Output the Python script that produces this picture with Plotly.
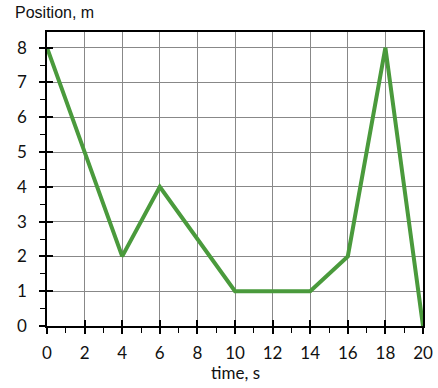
import plotly.graph_objects as go

time_s = [0, 4, 6, 10, 14, 16, 18, 20]
position_m = [8, 2, 4, 1, 1, 2, 8, 0]
x_ticks = [0, 2, 4, 6, 8, 10, 12, 14, 16, 18, 20]
y_ticks = [0, 1, 2, 3, 4, 5, 6, 7, 8]

tickfont = dict(family="Lato, Carlito, Calibri, sans-serif", size=17, color="#111")

fig = go.Figure()
fig.add_trace(go.Scatter(x=time_s, y=position_m, mode="lines",
                         line=dict(color="#4a9a3c", width=4), hoverinfo="skip"))
# invisible trace on overlaid axes to draw the inner half of crossing ticks
fig.add_trace(go.Scatter(x=time_s, y=position_m, mode="lines", xaxis="x2", yaxis="y2",
                         line=dict(color="rgba(0,0,0,0)", width=0), hoverinfo="skip"))

xr = [0, 20]
yr = [0, 8.45]

fig.update_layout(
    width=438, height=388,
    margin=dict(l=47, r=15, t=32, b=62, autoexpand=False),
    paper_bgcolor="white", plot_bgcolor="white",
    showlegend=False,
    xaxis=dict(range=xr, tickvals=x_ticks, showgrid=True, gridcolor="#888", gridwidth=1,
               showline=True, linecolor="black", linewidth=1.5, mirror=True,
               ticks="outside", ticklen=6, tickcolor="black", tickwidth=1.5,
               minor=dict(dtick=1, ticks="outside", ticklen=5, tickcolor="black", tickwidth=1, showgrid=False),
               tickfont=tickfont, zeroline=False, ticklabelstandoff=5, automargin=False),
    yaxis=dict(range=yr, tickvals=y_ticks, showgrid=True, gridcolor="#888", gridwidth=1,
               showline=True, linecolor="black", linewidth=1.5, mirror=True,
               ticks="outside", ticklen=6, tickcolor="black", tickwidth=1.5,
               minor=dict(tickvals=[0.5, 1.5, 2.5, 3.5, 4.5, 5.5, 6.5, 7.5], ticks="outside",
                          ticklen=5, tickcolor="black", tickwidth=1, showgrid=False),
               tickfont=tickfont, zeroline=False, ticklabelstandoff=9, automargin=False),
    xaxis2=dict(range=xr, overlaying="x", tickvals=x_ticks, ticks="inside", ticklen=6,
                tickcolor="black", tickwidth=1.5, showticklabels=False, showgrid=False,
                showline=False, zeroline=False, side="bottom", automargin=False),
    yaxis2=dict(range=yr, overlaying="y", tickvals=y_ticks, ticks="inside", ticklen=6,
                tickcolor="black", tickwidth=1.5, showticklabels=False, showgrid=False,
                showline=False, zeroline=False, side="left", automargin=False),
    annotations=[
        dict(text="Position, m", xref="paper", yref="paper", x=-0.09, y=1.0,
             yshift=9, xanchor="left", yanchor="bottom", showarrow=False,
             font=dict(family="Liberation Sans, Arial, sans-serif", size=16, color="#111")),
        dict(text="time, s", xref="paper", yref="paper", x=0.5, y=0,
             yshift=-46, xanchor="center", yanchor="middle", showarrow=False,
             font=tickfont),
    ],
)

fig.write_html("out.html")
